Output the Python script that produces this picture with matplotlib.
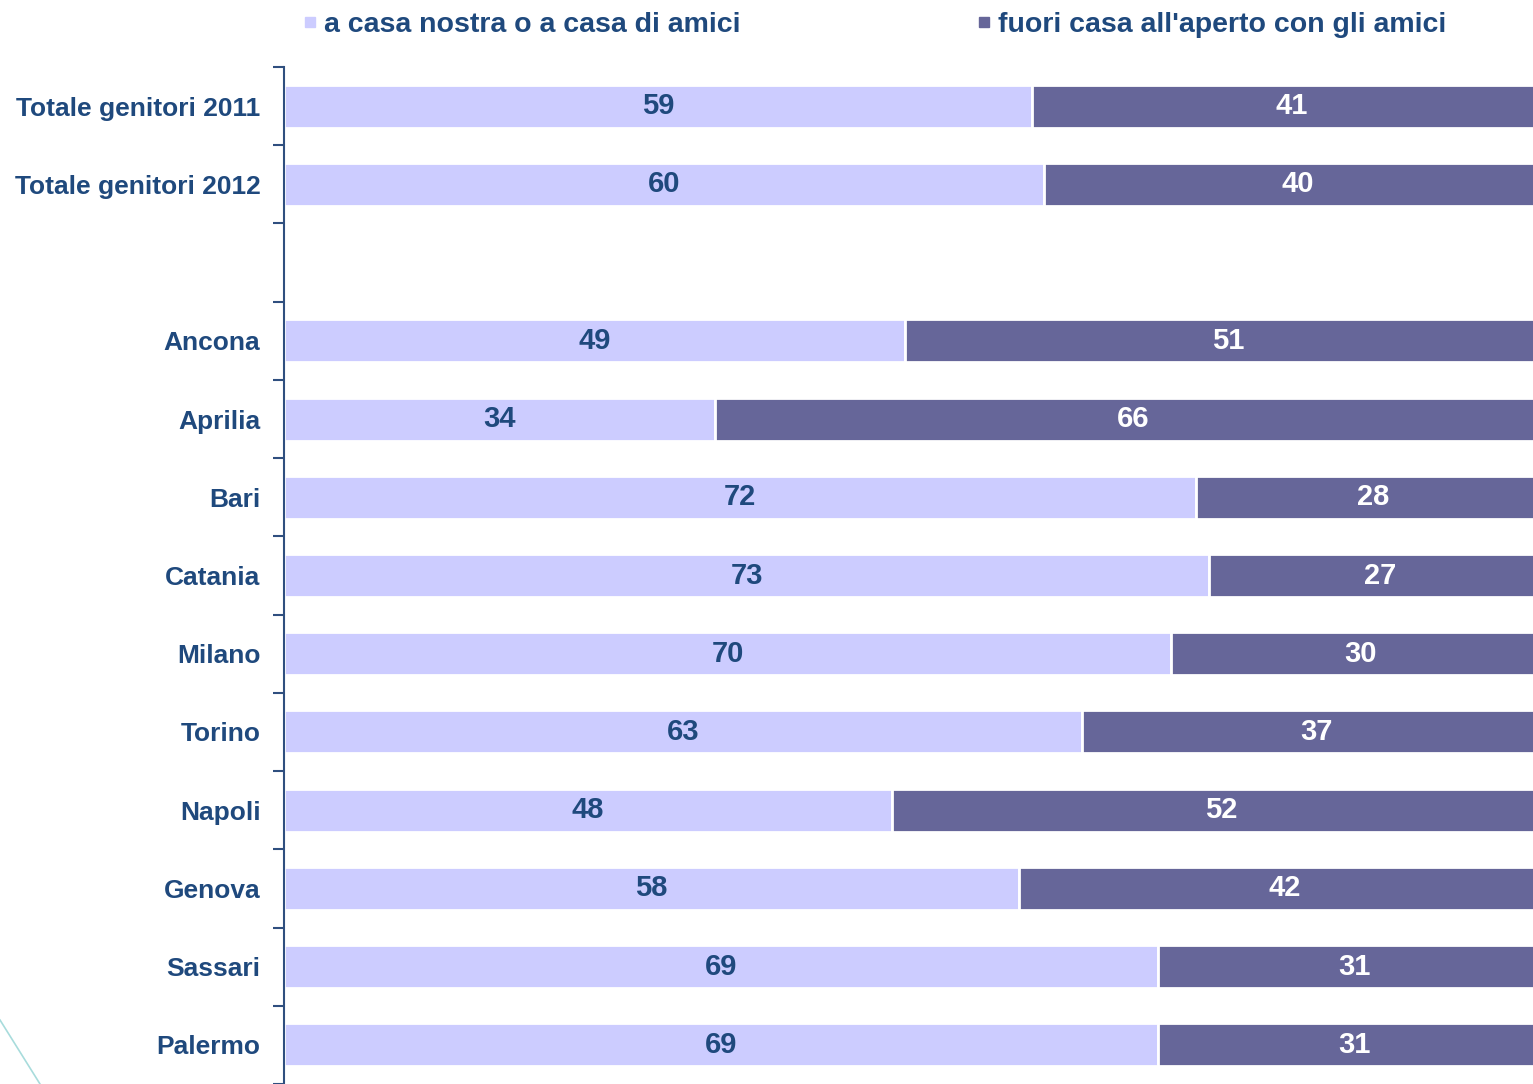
import matplotlib
matplotlib.use("Agg")
import matplotlib.pyplot as plt
from matplotlib.lines import Line2D

categories = ["Totale genitori 2011", "Totale genitori 2012", "", "Ancona", "Aprilia", "Bari",
              "Catania", "Milano", "Torino", "Napoli", "Genova", "Sassari", "Palermo"]
casa = [59, 60, None, 49, 34, 72, 73, 70, 63, 48, 58, 69, 69]
fuori = [41, 40, None, 51, 66, 28, 27, 30, 37, 52, 42, 31, 31]
series_names = ["a casa nostra o a casa di amici", "fuori casa all'aperto con gli amici"]

light = "#CCCCFF"
dark = "#666699"
txt = "#1F497D"

plt.rcParams['font.family'] = ['Liberation Sans', 'DejaVu Sans']
fig = plt.figure(figsize=(15.33, 10.84), dpi=100)
ax = fig.add_axes([284/1533, 0, (1551 - 284)/1533, 1 - 67/1084])

y = list(range(len(categories)))
for i, (a, b) in enumerate(zip(casa, fuori)):
    if a is None:
        continue
    ax.barh(i, a, height=0.55, color=light, edgecolor="white", linewidth=2)
    ax.barh(i, b, left=a, height=0.55, color=dark, edgecolor="white", linewidth=2)
    ax.text(a / 2, i, str(a), ha="center", va="center", fontsize=21, fontweight="bold", color=txt)
    ax.text(a + b / 2, i, str(b), ha="center", va="center", fontsize=21, fontweight="bold", color="white")

ax.set_xlim(0, 100)
ax.set_ylim(len(categories) - 0.5, -0.5)
ax.set_yticks(y)
ax.set_yticklabels(categories, fontsize=19, fontweight="bold", color=txt)
ax.set_yticks([k - 0.5 for k in range(len(categories) + 1)], minor=True)
ax.tick_params(axis="y", which="major", length=0, pad=17)
ax.tick_params(axis="y", which="minor", length=8, width=1.5, color="#2F4F7F", direction="out")
ax.set_xticks([])
for s in ["top", "right", "bottom"]:
    ax.spines[s].set_visible(False)
ax.spines["left"].set_color("#2F4F7F")
ax.spines["left"].set_linewidth(1.5)

h1 = Line2D([], [], marker="s", color=light, linestyle="none", markersize=7)
h2 = Line2D([], [], marker="s", color=dark, linestyle="none", markersize=7)
leg1 = fig.legend([h1], [series_names[0]], loc="center left", bbox_to_anchor=(273/1533, 1 - 25/1084),
                  frameon=False, handletextpad=0.1, handlelength=0.8,
                  prop={"size": 20.5, "weight": "bold"})
leg2 = fig.legend([h2], [series_names[1]], loc="center left", bbox_to_anchor=(947/1533, 1 - 25/1084),
                  frameon=False, handletextpad=0.1, handlelength=0.8,
                  prop={"size": 20.5, "weight": "bold"})
for leg in (leg1, leg2):
    for t in leg.get_texts():
        t.set_color(txt)

fig.add_artist(Line2D([0, 40/1533], [1 - 1020/1084, 0], color="#A8DCDC", linewidth=1.2))

fig.savefig("out.png", dpi=100)
